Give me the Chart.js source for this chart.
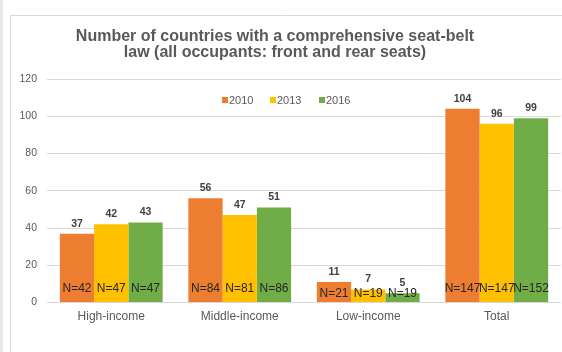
<!DOCTYPE html>
<html>
<head>
<meta charset="utf-8">
<script src="https://cdn.jsdelivr.net/npm/chart.js@4/dist/chart.umd.min.js"></script>
<style>
  html, body { margin: 0; padding: 0; background: #ffffff; }
  #c { display: block; }
</style>
</head>
<body>
<canvas id="c" width="562" height="352"></canvas>
<script>
// Income groups on the x axis
const categories = ['High-income', 'Middle-income', 'Low-income', 'Total'];
const years = ['2010', '2013', '2016'];

// Countries with a comprehensive seat-belt law
const v2010 = [37, 56, 11, 104];
const v2013 = [42, 47, 7, 96];
const v2016 = [43, 51, 5, 99];

// Number of countries assessed (N) in each group
const n2010 = [42, 84, 21, 147];
const n2013 = [47, 81, 19, 147];
const n2016 = [47, 86, 19, 152];

const yTicks = [0, 20, 40, 60, 80, 100, 120];

const titleLines = [
  'Number of countries with a comprehensive seat-belt',
  'law (all occupants: front and rear seats)'
];

const colors = ['#ED7D31', '#FFC000', '#70AD47'];
const values = [v2010, v2013, v2016];
const counts = [n2010, n2013, n2016];

const FONT = '"Liberation Sans", Arial, sans-serif';

// Frame, title and legend drawn around the plot
const decorations = {
  id: 'decorations',
  beforeDraw(chart) {
    const ctx = chart.ctx;
    ctx.save();
    ctx.fillStyle = '#ffffff';
    ctx.fillRect(0, 0, chart.width, chart.height);
    ctx.fillStyle = '#e7e7e7';
    ctx.fillRect(0, 0, 3, chart.height);
    ctx.strokeStyle = '#d9d9d9';
    ctx.lineWidth = 1;
    ctx.beginPath();
    ctx.moveTo(10.5, chart.height);
    ctx.lineTo(10.5, 15.5);
    ctx.lineTo(chart.width, 15.5);
    ctx.stroke();
    ctx.restore();
  },
  afterDraw(chart) {
    const ctx = chart.ctx;
    ctx.save();
    // title
    ctx.fillStyle = '#595959';
    ctx.font = 'bold 16px ' + FONT;
    ctx.textAlign = 'center';
    ctx.textBaseline = 'alphabetic';
    ctx.fillText(titleLines[0], 275, 41);
    ctx.fillText(titleLines[1], 275, 57);
    // legend
    ctx.font = '11px ' + FONT;
    ctx.textAlign = 'left';
    ctx.textBaseline = 'middle';
    const legendX = [222, 270, 319];
    chart.data.datasets.forEach((ds, i) => {
      ctx.fillStyle = ds.backgroundColor;
      ctx.fillRect(legendX[i], 97, 6, 6);
      ctx.fillStyle = '#595959';
      ctx.fillText(ds.label, legendX[i] + 7, 100.5);
    });
    ctx.restore();
  }
};

// Value labels above each bar and N labels near each bar's base
const barLabels = {
  id: 'barLabels',
  afterDatasetsDraw(chart) {
    const ctx = chart.ctx;
    ctx.save();
    ctx.textAlign = 'center';
    ctx.textBaseline = 'middle';
    chart.data.datasets.forEach((ds, i) => {
      const meta = chart.getDatasetMeta(i);
      meta.data.forEach((bar, j) => {
        ctx.font = 'bold 10.5px ' + FONT;
        ctx.fillStyle = '#404040';
        ctx.fillText(String(ds.data[j]), bar.x, bar.y - 10);
        const h = bar.base - bar.y;
        ctx.font = '12px ' + FONT;
        ctx.fillStyle = '#262626';
        ctx.fillText('N=' + counts[i][j], bar.x, h < 25 ? bar.base - 8 : bar.base - 13);
      });
    });
    ctx.restore();
  }
};

new Chart(document.getElementById('c'), {
  type: 'bar',
  data: {
    labels: categories,
    datasets: years.map((y, i) => ({
      label: y,
      data: values[i],
      backgroundColor: colors[i],
      borderWidth: 0,
      barPercentage: 1.0,
      categoryPercentage: 0.8
    }))
  },
  options: {
    responsive: false,
    animation: false,
    layout: { padding: { top: 79, left: 0, right: 1, bottom: 21 } },
    plugins: {
      legend: { display: false },
      title: { display: false },
      tooltip: { enabled: false }
    },
    scales: {
      x: {
        grid: { display: false, drawTicks: false },
        border: { display: false },
        ticks: {
          color: '#595959',
          font: { family: FONT, size: 12 },
          padding: 7
        }
      },
      y: {
        min: 0,
        max: 120,
        afterBuildTicks(scale) {
          scale.ticks = yTicks.map(v => ({ value: v }));
        },
        afterFit(scale) { scale.width = 47; },
        grid: { color: '#d9d9d9', lineWidth: 1, drawTicks: false },
        border: { display: false },
        ticks: {
          color: '#595959',
          font: { family: FONT, size: 10.5 },
          padding: 10
        }
      }
    }
  },
  plugins: [decorations, barLabels]
});
</script>
</body>
</html>
